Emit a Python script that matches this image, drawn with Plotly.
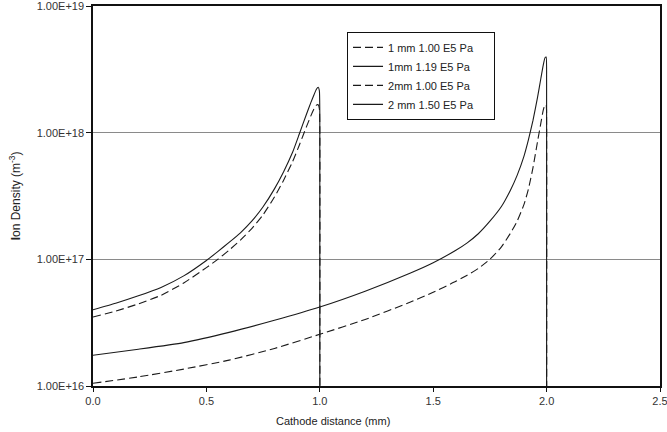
import plotly.graph_objects as go

# Ion density along the cathode gap for four gap/pressure combinations
x_1mm = [0.0, 0.1, 0.2, 0.3, 0.4, 0.5, 0.55, 0.6, 0.65, 0.7, 0.75, 0.8, 0.84,
         0.88, 0.91, 0.94, 0.96, 0.975, 0.985, 0.993, 0.998, 1.0, 1.0]
n_1mm_100 = [3.5e16, 3.9e16, 4.45e16, 5.2e16, 6.5e16, 8.6e16, 1.0e17, 1.18e17,
             1.42e17, 1.75e17, 2.25e17, 3.1e17, 4.2e17, 5.9e17, 8.0e17, 1.1e18,
             1.35e18, 1.55e18, 1.65e18, 1.66e18, 1.55e18, 1.1e18, 1e15]
n_1mm_119 = [4.0e16, 4.5e16, 5.15e16, 6.0e16, 7.4e16, 9.8e16, 1.15e17, 1.36e17,
             1.62e17, 2.0e17, 2.6e17, 3.6e17, 4.9e17, 7.0e17, 9.8e17, 1.38e18,
             1.72e18, 2.0e18, 2.2e18, 2.28e18, 2.15e18, 1.4e18, 1e15]

x_2mm = [0.0, 0.2, 0.4, 0.6, 0.8, 1.0, 1.2, 1.4, 1.5, 1.6, 1.65, 1.7, 1.75,
         1.8, 1.84, 1.87, 1.9, 1.92, 1.94, 1.96, 1.975, 1.985, 1.993, 1.998,
         2.0, 2.0]
n_2mm_100 = [1.05e16, 1.18e16, 1.36e16, 1.6e16, 1.98e16, 2.56e16, 3.35e16,
             4.6e16, 5.5e16, 6.7e16, 7.5e16, 8.5e16, 1.0e17, 1.25e17, 1.6e17,
             2.0e17, 2.7e17, 3.6e17, 5.3e17, 8.5e17, 1.2e18, 1.5e18, 1.67e18,
             1.65e18, 1.2e18, 1e15]
n_2mm_150 = [1.75e16, 1.95e16, 2.2e16, 2.65e16, 3.3e16, 4.2e16, 5.6e16,
             7.8e16, 9.4e16, 1.18e17, 1.35e17, 1.6e17, 2.0e17, 2.6e17, 3.5e17,
             4.6e17, 6.5e17, 8.8e17, 1.25e18, 1.9e18, 2.7e18, 3.4e18, 3.9e18,
             3.95e18, 2.5e18, 1e15]

series = [
    ("1 mm 1.00 E5 Pa", x_1mm, n_1mm_100, "dash"),
    ("1mm 1.19 E5 Pa", x_1mm, n_1mm_119, "solid"),
    ("2mm 1.00 E5 Pa", x_2mm, n_2mm_100, "dash"),
    ("2 mm 1.50 E5 Pa", x_2mm, n_2mm_150, "solid"),
]

y_ticks = [1e16, 1e17, 1e18, 1e19]
y_tick_text = ["1.00E+16", "1.00E+17", "1.00E+18", "1.00E+19"]
x_ticks = [0.0, 0.5, 1.0, 1.5, 2.0, 2.5]
x_tick_text = ["0.0", "0.5", "1.0", "1.5", "2.0", "2.5"]

PAD = "\u00a0" * 5  # widens the legend box to the right of the labels

fig = go.Figure()
for name, xs, ys, dash in series:
    fig.add_trace(go.Scatter(
        x=xs, y=ys, name=name + PAD, mode="lines",
        line=dict(color="#1a1a1a", width=1.1, shape="spline", smoothing=0.5,
                  dash="8px,4px" if dash == "dash" else "solid"),
    ))

font = "Liberation Sans, Arial, sans-serif"
fig.update_layout(
    width=667, height=432,
    margin=dict(l=93, r=7, t=6, b=46),
    paper_bgcolor="white", plot_bgcolor="white",
    font=dict(family=font, size=11, color="#333"),
    showlegend=True,
    legend=dict(
        x=0.448, y=0.932, xanchor="left", yanchor="top",
        bgcolor="white", bordercolor="#111", borderwidth=1,
        font=dict(family=font, size=11, color="#222"),
        tracegroupgap=0,
    ),
    xaxis=dict(
        range=[0, 2.5], tickvals=x_ticks, ticktext=x_tick_text,
        showgrid=False, zeroline=False, automargin=False,
        ticklabeloverflow="allow",
        showline=True, linecolor="#111", linewidth=1.5, mirror=True,
        ticks="outside", ticklen=4, tickcolor="#111",
        tickfont=dict(size=11, color="#333"),
    ),
    yaxis=dict(
        type="log", range=[16, 19], tickvals=y_ticks, ticktext=y_tick_text,
        showgrid=True, gridcolor="#8a8a8a", gridwidth=1.4,
        zeroline=False, automargin=False,
        ticklabeloverflow="allow",
        showline=True, linecolor="#111", linewidth=1.5, mirror=True,
        ticks="outside", ticklen=5, tickcolor="#111",
        tickfont=dict(size=11, color="#333"),
    ),
)

fig.add_annotation(
    text="Cathode distance (mm)", xref="paper", yref="paper",
    x=0.423, y=-0.07, xanchor="center", yanchor="top", showarrow=False,
    font=dict(family=font, size=11, color="#222"),
)
fig.add_annotation(
    text="<b>I</b>on Density (m<sup>-3</sup>)", xref="paper", yref="paper",
    x=-0.137, y=0.5, xanchor="center", yanchor="middle", showarrow=False,
    textangle=-90, font=dict(family=font, size=12, color="#222"),
)

fig.write_html("out.html")
